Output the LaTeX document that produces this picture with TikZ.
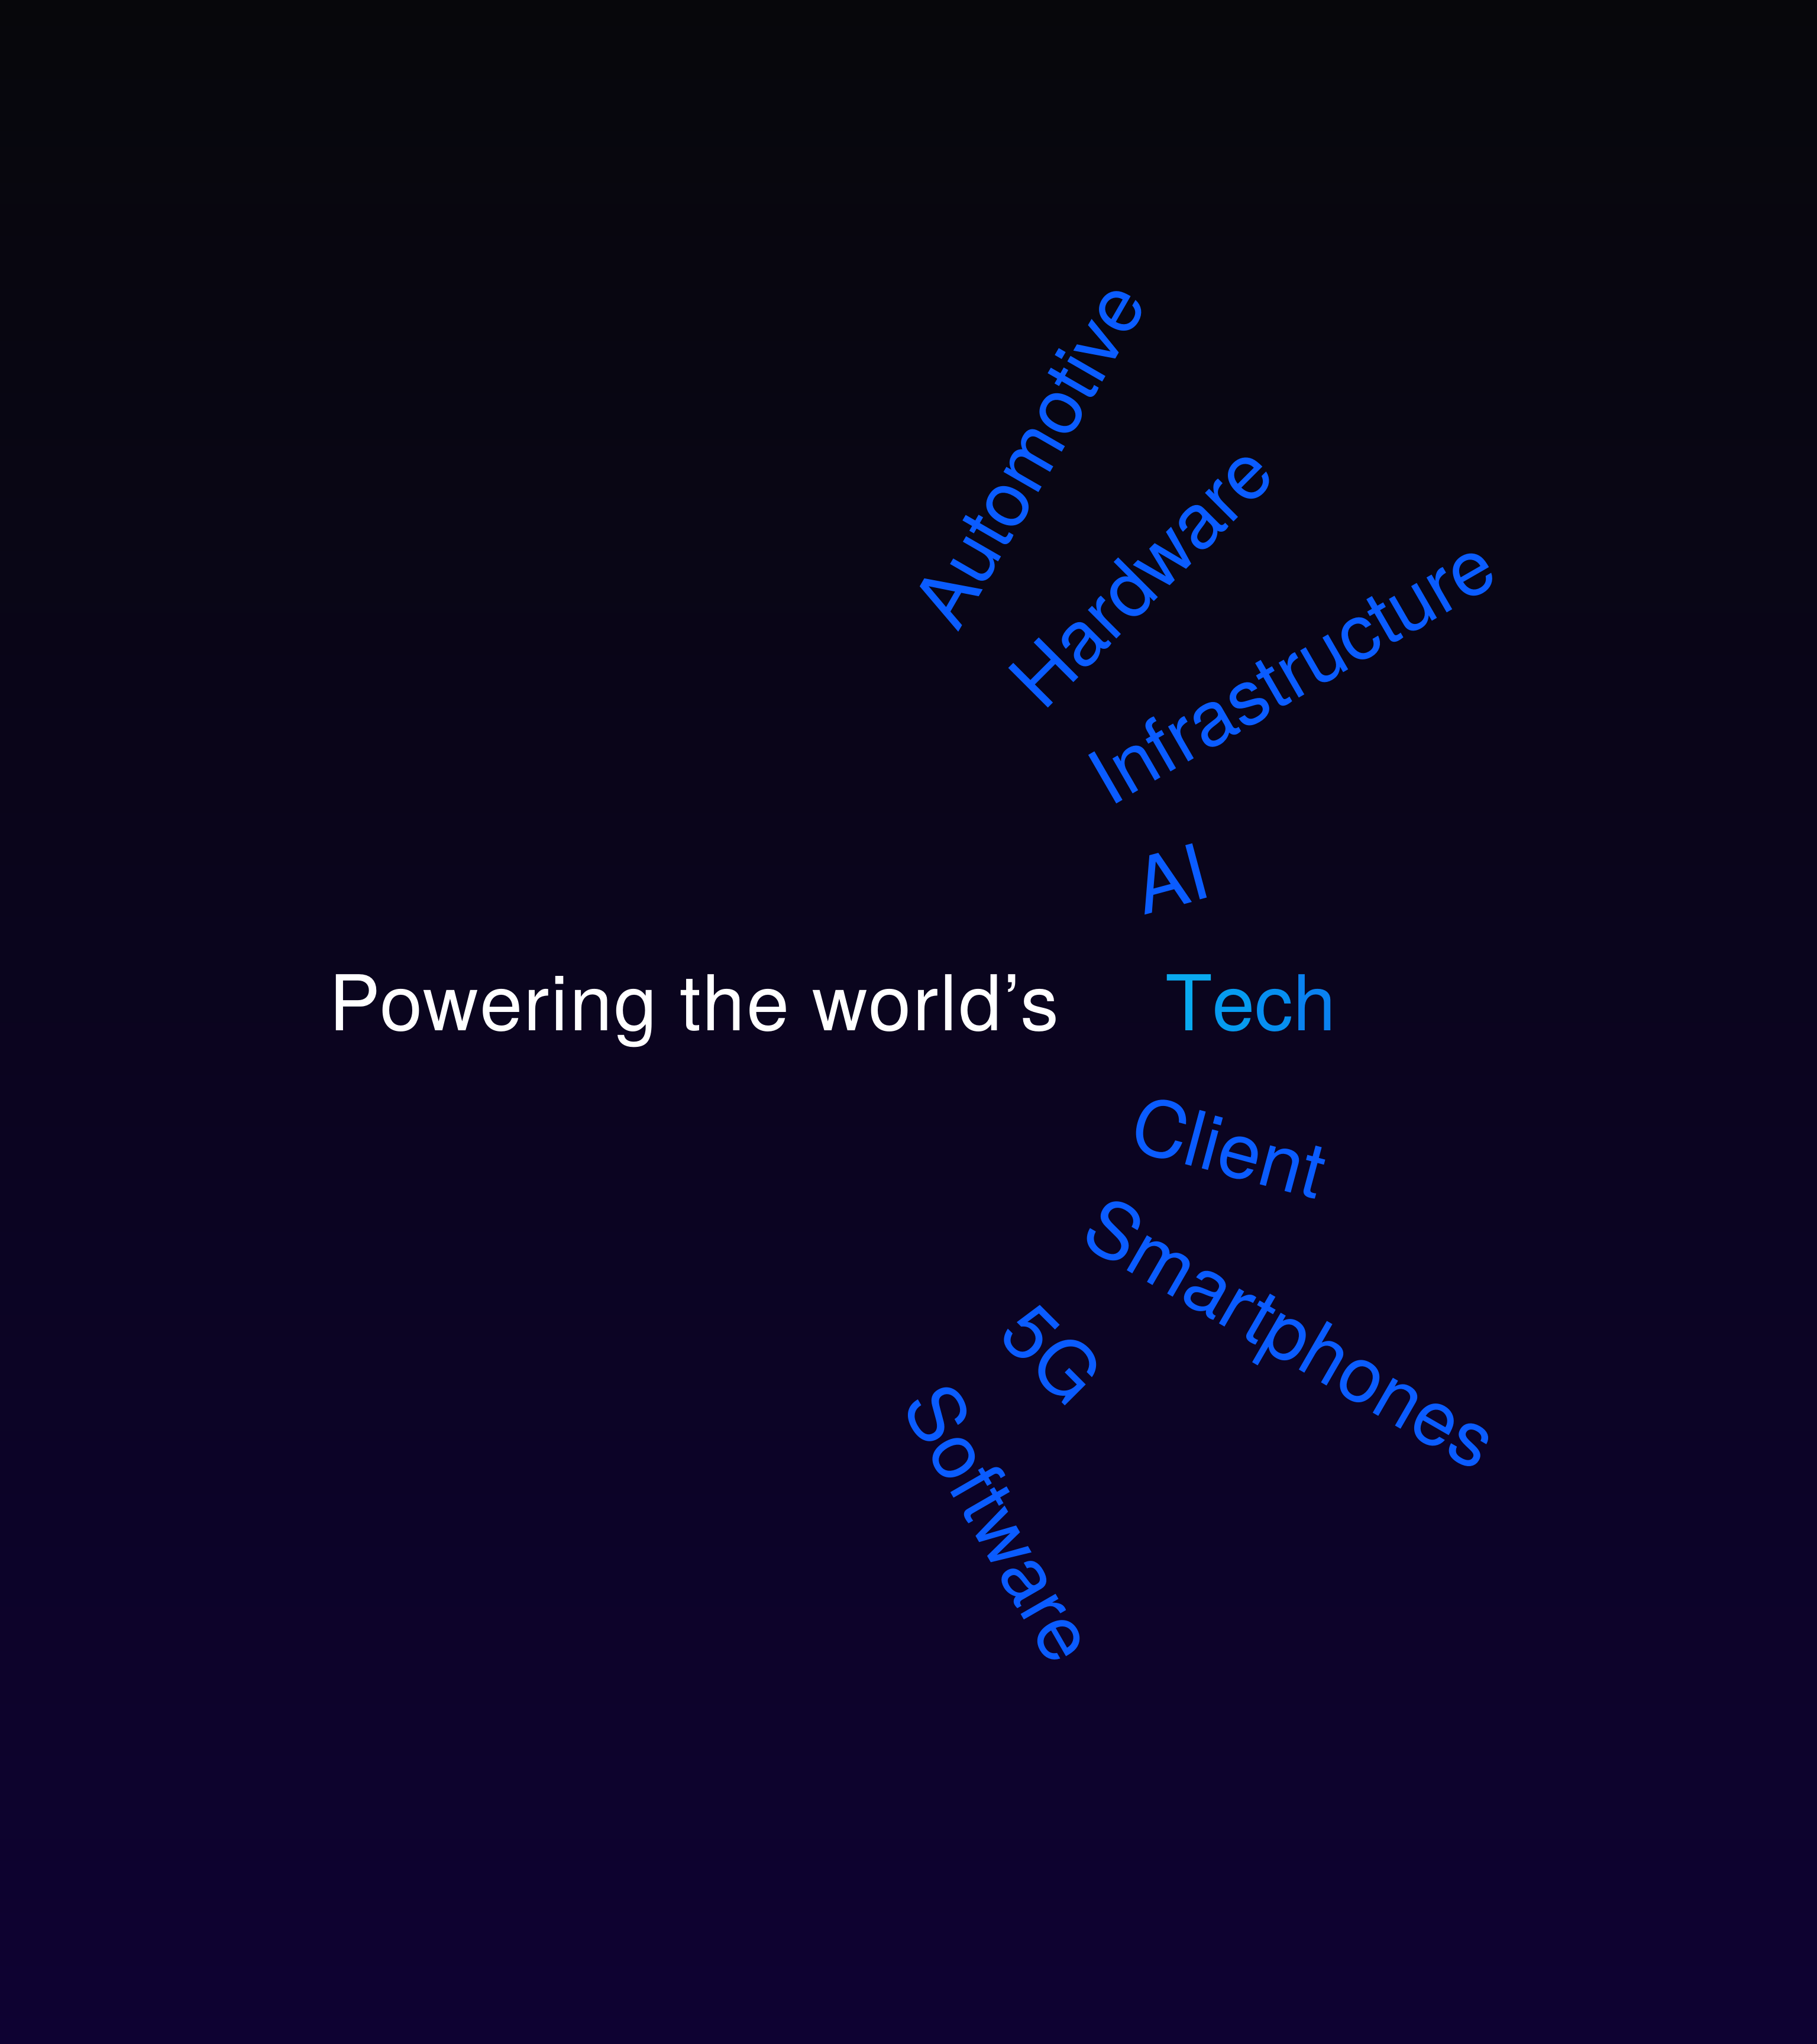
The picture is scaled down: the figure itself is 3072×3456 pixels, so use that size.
\documentclass[tikz,border=0pt]{standalone}
\usepackage{fontspec}
\setmainfont{TeX Gyre Heros}
\newfontfamily\leadfont[LetterSpace=2]{TeX Gyre Heros}
\definecolor{bgtop}{HTML}{07070B}
\definecolor{bgbot}{HTML}{0E0232}
\definecolor{wordblue}{HTML}{0A5CFF}
\definecolor{techA}{HTML}{0AAAF0}
\definecolor{techB}{HTML}{069BF0}
\definecolor{techC}{HTML}{068FF0}
\definecolor{techD}{HTML}{0A82F0}
\tikzset{
  word/.style={anchor=base west, inner sep=0pt, outer sep=0pt, text=wordblue,
    font=\fontsize{37pt}{44pt}\selectfont},
  lead/.style={word, text=white, font=\leadfont\fontsize{37pt}{44pt}\selectfont}
}
\begin{document}
\begin{tikzpicture}[x=0.01cm, y=-0.01cm]
\useasboundingbox (0,0) rectangle (3072,3456);
\shade[top color=bgtop, bottom color=bgbot] (0,0) rectangle (3072,3456);
\node[lead] (lead) at (556,1742) {Powering the world’s};
\node[word] (tech) at (1970,1742) {\textcolor{techA}{T}\textcolor{techB}{e}\textcolor{techC}{c}\textcolor{techD}{h}};
\node[word, rotate=60] (auto) at (1619,1070) {Automotive};
\node[word, rotate=45] (hard) at (1764,1204) {Hardware};
\node[word, rotate=30] (infra) at (1876,1365) {Infrastructure};
\node[word, rotate=15] (ai) at (1933,1547) {AI};
\node[word, rotate=-15] (client) at (1905,1942) {Client};
\node[word, rotate=-30] (smart) at (1822,2100) {Smartphones};
\node[word, rotate=-45] (fiveg) at (1684,2260) {5G};
\node[word, rotate=-60] (soft) at (1522,2376) {Software};
\end{tikzpicture}
\end{document}
